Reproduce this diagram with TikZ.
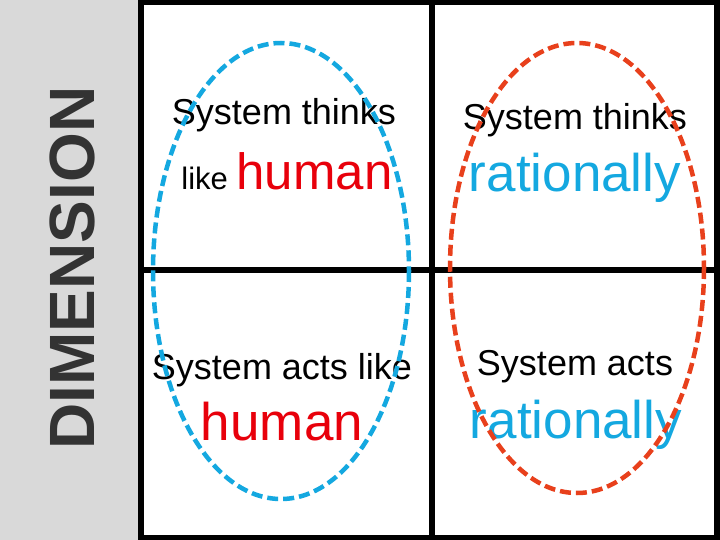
\documentclass[tikz,border=0pt]{standalone}
\usepackage{fontspec}
\setmainfont{Liberation Sans}
\begin{document}
\begin{tikzpicture}[x=1pt,y=-1pt,
  grid/.style={line width=5.5pt,black},
  oval/.style={line width=4.5pt,dash pattern=on 11pt off 5pt},
  txt/.style={font=\fontsize{36}{40}\selectfont,text=black,inner sep=0pt},
  big/.style={font=\fontsize{53}{58}\selectfont,inner sep=0pt}]
\definecolor{bandgray}{HTML}{D9D9D9}
\definecolor{myred}{HTML}{E8000B}
\definecolor{myblue}{HTML}{14A8E0}
\definecolor{myorange}{HTML}{E8401C}
\useasboundingbox (0,0) rectangle (720,540);
\fill[white] (0,0) rectangle (720,540);
\fill[bandgray] (0,0) rectangle (138,540);
\node[rotate=90,font=\bfseries\fontsize{64}{70}\selectfont,text=black!80] (dim) at (72,268) {DIMENSION};
\draw[grid] (141,2.5) rectangle (717,537.5);
\draw[grid] (432,0) -- (432,540);
\draw[grid] (141,270) -- (717,270);
\node[txt] (t1) at (284,115) {System thinks};
\node[txt,anchor=base] (t2) at (287,190) {\fontsize{31}{34}\selectfont like \fontsize{51}{56}\selectfont\textcolor{myred}{human}};
\node[txt] (t3) at (575,120) {System thinks};
\node[big,text=myblue,anchor=base] (t4) at (575,192) {rationally};
\node[txt] (t5) at (282,370) {System acts like};
\node[big,text=myred,anchor=base] (t6) at (282,440) {human};
\node[txt] (t7) at (575,367) {System acts};
\node[big,text=myblue,anchor=base] (t8) at (576,438) {rationally};
\draw[oval,myblue] (281,271) ellipse [x radius=128,y radius=228];
\draw[oval,myorange] (577,268) ellipse [x radius=127,y radius=225];
\end{tikzpicture}
\end{document}
